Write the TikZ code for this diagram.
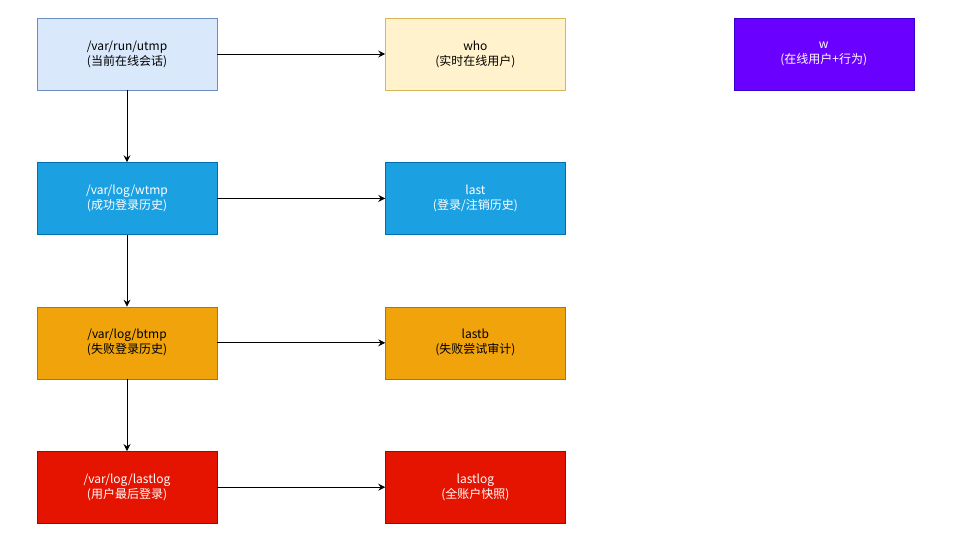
\documentclass[tikz,border=0pt]{standalone}
\usepackage{fontspec}
\setmainfont{Noto Sans CJK SC}
\usetikzlibrary{arrows.meta, positioning}
\definecolor{utmpfill}{HTML}{DAE8FC}
\definecolor{utmpdraw}{HTML}{6C8EBF}
\definecolor{whofill}{HTML}{FFF2CC}
\definecolor{whodraw}{HTML}{D6B656}
\definecolor{wtmpfill}{HTML}{1BA1E2}
\definecolor{wtmpdraw}{HTML}{006EAF}
\definecolor{btmpfill}{HTML}{F0A30A}
\definecolor{btmpdraw}{HTML}{BD7000}
\definecolor{lastlogfill}{HTML}{E51400}
\definecolor{lastlogdraw}{HTML}{B20000}
\definecolor{wfill}{HTML}{6A00FF}
\definecolor{wdraw}{HTML}{3700CC}
\tikzset{
    filebox/.style={rectangle, minimum width=180pt, minimum height=72pt, align=center,
                    font=\fontsize{12}{15}\selectfont, inner sep=0pt},
    sessbox/.style={filebox, draw=utmpdraw, fill=utmpfill},
    whobox/.style={filebox, draw=whodraw, fill=whofill},
    wtmpbox/.style={filebox, draw=wtmpdraw, fill=wtmpfill, text=white},
    btmpbox/.style={filebox, draw=btmpdraw, fill=btmpfill},
    lastlogbox/.style={filebox, draw=lastlogdraw, fill=lastlogfill, text=white},
    wbox/.style={filebox, draw=wdraw, fill=wfill, text=white},
    arrow/.style={-{Stealth[length=7pt, width=7pt, inset=2.5pt]}, line width=0.8pt},
}
\begin{document}
\begin{tikzpicture}[x=1pt, y=-1pt]
    \useasboundingbox (0,0) rectangle (953,538);
    % File boxes
    \node[sessbox] (utmp) at (127,54) {/var/run/utmp\\(当前在线会话)};
    \node[wtmpbox, below=72pt of utmp] (wtmp) {/var/log/wtmp\\(成功登录历史)};
    \node[btmpbox, below=72pt of wtmp] (btmp) {/var/log/btmp\\(失败登录历史)};
    \node[lastlogbox, below=72pt of btmp] (lastlog) {/var/log/lastlog\\(用户最后登录)};

    % Commands
    \node[whobox, right=168pt of utmp] (who) {who\\(实时在线用户)};
    \node[wtmpbox, right=168pt of wtmp] (last) {last\\(登录/注销历史)};
    \node[btmpbox, right=168pt of btmp] (lastb) {lastb\\(失败尝试审计)};
    \node[lastlogbox, right=168pt of lastlog] (lastlogcmd) {lastlog\\(全账户快照)};
    \node[wbox, right=168pt of who] (w) {w\\(在线用户+行为)};

    % Connectors
    \draw[arrow] (utmp) -- (wtmp);
    \draw[arrow] (wtmp) -- (btmp);
    \draw[arrow] (btmp) -- (lastlog);
    \draw[arrow] (utmp) -- (who);
    \draw[arrow] (wtmp) -- (last);
    \draw[arrow] (btmp) -- (lastb);
    \draw[arrow] (lastlog) -- (lastlogcmd);
\end{tikzpicture}
\end{document}
